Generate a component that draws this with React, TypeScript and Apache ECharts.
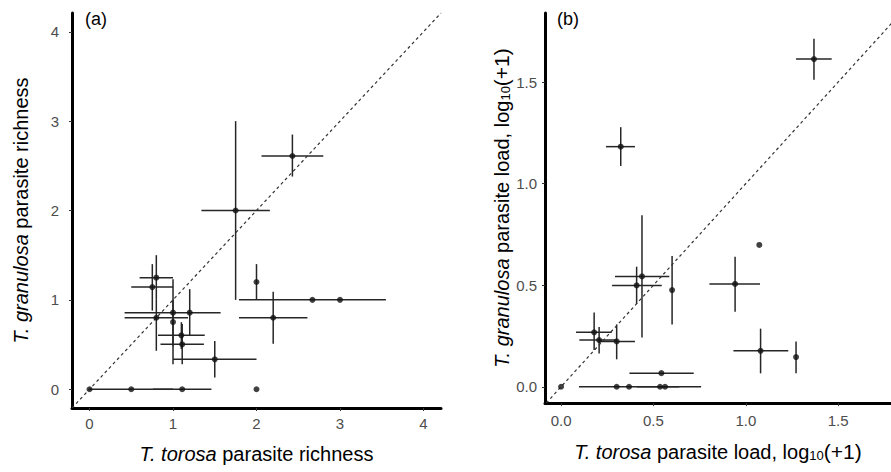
import React, { useEffect, useRef } from "react";
import * as echarts from "echarts";

// Panel (a): parasite richness, T. torosa (x) vs T. granulosa (y)
const richX = [0, 0.5, 1.11, 2.0, 1.5, 1.11, 1.1, 1.0, 0.8, 1.0, 1.2, 0.752, 0.8, 2.2, 2.67, 3.0, 2.0, 1.75, 2.43];
const richY = [0, 0, 0, 0, 0.335, 0.503, 0.603, 0.752, 0.8, 0.857, 0.857, 1.143, 1.248, 0.8, 1.0, 1.0, 1.2, 2.0, 2.61];
const richXLo = [null, 0.0, 0.76, null, 1.0, 0.85, 0.82, null, 0.42, 0.42, null, 0.5, 0.6, 1.79, 1.79, null, null, 1.34, 2.06];
const richXHi = [null, 1.0, 1.46, null, 2.0, 1.37, 1.38, null, 1.18, 1.57, null, 1.0, 1.0, 2.61, 3.55, null, null, 2.16, 2.8];
const richYLo = [null, null, null, null, 0.13, 0.28, 0.45, 0.28, 0.43, 0.48, 0.6, 0.88, 1.0, 0.51, null, null, 1.0, 1.0, 2.38];
const richYHi = [null, null, null, null, 0.54, 0.73, 0.75, 1.0, 1.0, 1.23, 1.12, 1.4, 1.5, 1.09, null, null, 1.4, 3.0, 2.85];

// Panel (b): parasite load, log10(+1)
const loadX = [0, 0.179, 0.206, 0.301, 0.409, 0.438, 0.601, 0.942, 1.073, 1.08, 1.272, 0.543, 0.301, 0.368, 0.536, 0.563, 0.323, 1.369];
const loadY = [0, 0.268, 0.23, 0.223, 0.499, 0.543, 0.476, 0.506, 0.698, 0.177, 0.146, 0.067, 0, 0, 0, 0, 1.182, 1.613];
const loadXLo = [null, 0.081, 0.099, 0.206, 0.276, 0.292, null, 0.803, null, 0.933, null, 0.37, null, 0.097, null, 0.41, 0.243, 1.272];
const loadXHi = [null, 0.274, 0.301, 0.4, 0.545, 0.586, null, 1.077, null, 1.23, null, 0.718, null, 0.64, null, 0.758, 0.4, 1.465];
const loadYLo = [null, 0.181, 0.164, 0.135, 0.407, 0.243, 0.307, 0.369, null, 0.066, 0.066, null, null, null, null, null, 1.087, 1.511];
const loadYHi = [null, 0.366, 0.294, 0.307, 0.591, 0.844, 0.644, 0.64, null, 0.286, 0.223, null, null, null, null, null, 1.278, 1.713];

// Tick labels
const richTicks = [0, 1, 2, 3, 4];
const loadTicks = [0, 0.5, 1.0, 1.5];

// Axis extents (same on both axes of a panel, so y = x runs corner to corner)
const richRange = [-0.21, 4.21];
const loadRangeX = [-0.087, 1.786];
const loadRangeY = [-0.08, 1.84];

const FONT = "'Liberation Sans', Arial, Helvetica, sans-serif";

function barData(xs: number[], ys: number[], xl: (number | null)[], xh: (number | null)[], yl: (number | null)[], yh: (number | null)[]) {
  return xs.map((x, i) => [x, ys[i], xl[i] ?? x, xh[i] ?? x, yl[i] ?? ys[i], yh[i] ?? ys[i]]);
}

function renderBars(_params: any, api: any) {
  const x = api.value(0);
  const y = api.value(1);
  const xl = api.value(2);
  const xh = api.value(3);
  const yl = api.value(4);
  const yh = api.value(5);
  const children: any[] = [];
  const style = { stroke: "#262626", lineWidth: 1.5 };
  if (xh > xl) {
    const a = api.coord([xl, y]);
    const b = api.coord([xh, y]);
    children.push({ type: "line", shape: { x1: a[0], y1: a[1], x2: b[0], y2: b[1] }, style });
  }
  if (yh > yl) {
    const a = api.coord([x, yl]);
    const b = api.coord([x, yh]);
    children.push({ type: "line", shape: { x1: a[0], y1: a[1], x2: b[0], y2: b[1] }, style });
  }
  return { type: "group", children };
}

const titleRich = {
  i: { fontStyle: "italic", fontSize: 20, fontFamily: FONT, color: "#000" },
  n: { fontSize: 20, fontFamily: FONT, color: "#000" },
  p: { fontSize: 21, fontFamily: FONT, color: "#000", fontWeight: "lighter" },
  s: { fontSize: 13, fontFamily: FONT, color: "#000", verticalAlign: "bottom", lineHeight: 13 },
};

function valueAxis(gridIndex: number, range: number[], ticks: number[], fmt: (v: number) => string, name: string, nameGap: number, margin: number, isY: boolean) {
  return {
    type: "value",
    gridIndex,
    min: range[0],
    max: range[1],
    axisLine: { show: true, onZero: false, lineStyle: { color: "#000", width: 3 } },
    axisTick: { show: true, length: 3, customValues: ticks, lineStyle: { color: "#333", width: 1 } },
    axisLabel: {
      customValues: ticks,
      formatter: fmt,
      color: "#4d4d4d",
      fontSize: 15,
      fontFamily: FONT,
      margin,
    },
    splitLine: { show: false },
    name,
    nameLocation: "middle",
    nameGap,
    nameRotate: isY ? 90 : 0,
    nameTextStyle: { rich: titleRich, fontSize: 20, fontFamily: FONT },
  };
}

export default function App() {
  const ref = useRef<HTMLDivElement>(null);

  useEffect(() => {
    if (!ref.current) return;
    const chart = echarts.init(ref.current, undefined, { renderer: "svg" });
    const intFmt = (v: number) => String(Math.round(v));
    const decFmt = (v: number) => v.toFixed(1);

    chart.setOption({
      animation: false,
      backgroundColor: "#fff",
      grid: [
        { left: 72, top: 13, width: 369, height: 395 },
        { left: 545, top: 13, width: 346, height: 390 },
      ],
      xAxis: [
        valueAxis(0, richRange, richTicks, intFmt, "{i|T. torosa}{n| parasite richness}", 36, 8, false),
        valueAxis(1, loadRangeX, loadTicks, decFmt, "{i|T. torosa}{n| parasite load, log}{s|10}{p|(+1)}", 38, 10, false),
      ],
      yAxis: [
        valueAxis(0, richRange, richTicks, intFmt, "{i|T. granulosa}{n| parasite richness}", 41, 13, true),
        valueAxis(1, loadRangeY, loadTicks, decFmt, "{i|T. granulosa}{n| parasite load, log}{s|10}{p|(+1)}", 30, 8, true),
      ],
      graphic: [
        { type: "text", left: 85, top: 10, style: { text: "(a)", fontSize: 18, fontFamily: FONT, fill: "#000" } },
        { type: "text", left: 557, top: 10, style: { text: "(b)", fontSize: 18, fontFamily: FONT, fill: "#000" } },
      ],
      series: [
        {
          type: "line",
          xAxisIndex: 0,
          yAxisIndex: 0,
          data: [[richRange[0], richRange[0]], [richRange[1], richRange[1]]],
          showSymbol: false,
          silent: true,
          lineStyle: { color: "#333", width: 1.2, type: [3, 3] },
        },
        {
          type: "line",
          xAxisIndex: 1,
          yAxisIndex: 1,
          data: [[loadRangeY[0], loadRangeY[0]], [loadRangeY[1], loadRangeY[1]]],
          showSymbol: false,
          silent: true,
          lineStyle: { color: "#333", width: 1.2, type: [3, 3] },
        },
        {
          type: "custom",
          xAxisIndex: 0,
          yAxisIndex: 0,
          renderItem: renderBars,
          data: barData(richX, richY, richXLo, richXHi, richYLo, richYHi),
          silent: true,
        },
        {
          type: "custom",
          xAxisIndex: 1,
          yAxisIndex: 1,
          renderItem: renderBars,
          data: barData(loadX, loadY, loadXLo, loadXHi, loadYLo, loadYHi),
          silent: true,
        },
        {
          type: "scatter",
          xAxisIndex: 0,
          yAxisIndex: 0,
          data: richX.map((x, i) => [x, richY[i]]),
          symbolSize: 6,
          itemStyle: { color: "#111" },
          z: 5,
        },
        {
          type: "scatter",
          xAxisIndex: 1,
          yAxisIndex: 1,
          data: loadX.map((x, i) => [x, loadY[i]]),
          symbolSize: 6,
          itemStyle: { color: "#111" },
          z: 5,
        },
      ],
    });
    return () => chart.dispose();
  }, []);

  return <div ref={ref} style={{ position: "fixed", left: 0, top: 0, width: 891, height: 472, background: "#fff" }} />;
}
